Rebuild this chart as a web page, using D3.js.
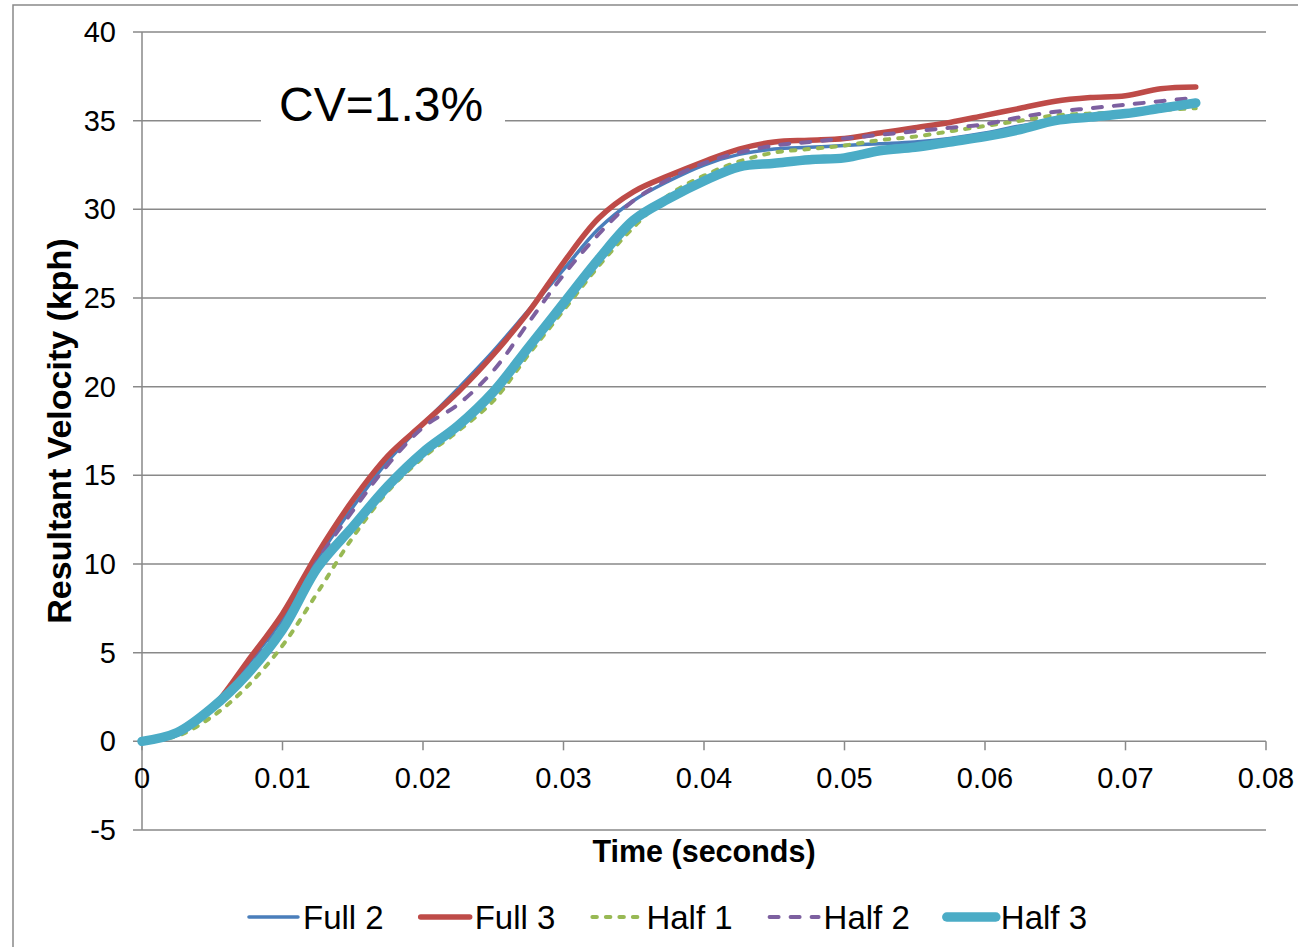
<!DOCTYPE html>
<html>
<head>
<meta charset="utf-8">
<script src="https://cdn.jsdelivr.net/npm/d3@7"></script>
<style>
  body { margin: 0; background: #fff; }
  svg { display: block; font-family: "Liberation Sans", Arial, sans-serif; }
</style>
</head>
<body>
<svg width="1298" height="947"></svg>
<script>
const d3 = window.d3

// time axis (seconds)
const times = [0, 0.0025, 0.005, 0.0075, 0.01, 0.0125, 0.015, 0.0175, 0.02, 0.0225,
  0.025, 0.0275, 0.03, 0.0325, 0.035, 0.0375, 0.04, 0.0425, 0.045, 0.0475,
  0.05, 0.0525, 0.055, 0.0575, 0.06, 0.0625, 0.065, 0.0675, 0.07, 0.0725, 0.075]

// resultant velocity (kph) per trial
const full2 = [0, 0.4, 1.8, 4.3, 6.9, 10.3, 13.2, 15.8, 17.9, 19.9,
  22.0, 24.3, 26.6, 28.9, 30.5, 31.6, 32.5, 33.1, 33.4, 33.5,
  33.6, 33.7, 33.8, 34.0, 34.3, 34.7, 35.0, 35.2, 35.4, 35.7, 36.0]
const full3 = [0, 0.4, 1.9, 4.5, 7.2, 10.6, 13.6, 16.1, 17.9, 19.7,
  21.8, 24.2, 27.0, 29.5, 31.0, 31.9, 32.7, 33.4, 33.8, 33.9,
  34.0, 34.3, 34.6, 34.9, 35.3, 35.7, 36.1, 36.3, 36.4, 36.8, 36.9]
const half1 = [0, 0.3, 1.4, 3.1, 5.4, 8.4, 11.5, 14.1, 16.0, 17.5,
  19.2, 21.8, 24.3, 26.8, 29.0, 30.8, 31.9, 32.7, 33.2, 33.4,
  33.6, 33.9, 34.1, 34.4, 34.7, 35.0, 35.3, 35.4, 35.5, 35.6, 35.7]
const half2 = [0, 0.4, 1.8, 4.1, 6.6, 10.2, 13.0, 15.6, 17.7, 19.0,
  20.9, 23.6, 26.3, 28.6, 30.5, 31.7, 32.6, 33.2, 33.6, 33.8,
  34.0, 34.2, 34.4, 34.6, 34.8, 35.2, 35.5, 35.7, 35.9, 36.1, 36.3]
const half3 = [0, 0.5, 1.9, 3.8, 6.3, 9.8, 12.1, 14.4, 16.3, 17.8,
  19.7, 22.2, 24.7, 27.2, 29.4, 30.6, 31.6, 32.4, 32.6, 32.8,
  32.9, 33.3, 33.5, 33.8, 34.1, 34.5, 35.0, 35.2, 35.4, 35.7, 36.0]

const seriesNames = ['Full 2', 'Full 3', 'Half 1', 'Half 2', 'Half 3']
const seriesValues = [full2, full3, half1, half2, half3]
const xTicks = [0, 0.01, 0.02, 0.03, 0.04, 0.05, 0.06, 0.07, 0.08]
const yTicks = [-5, 0, 5, 10, 15, 20, 25, 30, 35, 40]
const note = 'CV=1.3%'

// line styles for each series
const styles = [
  { color: '#4a7ebb', width: 3.5, dash: null },
  { color: '#be4b48', width: 5.5, dash: null },
  { color: '#98b954', width: 4, dash: '4.5,9' },
  { color: '#7d60a0', width: 4, dash: '9,12' },
  { color: '#4bacc6', width: 9.5, dash: null },
]

const grey = '#898989'
const svg = d3.select('svg')

// outer chart frame (runs off right and bottom edges)
svg.append('rect')
  .attr('x', 13).attr('y', 5)
  .attr('width', 1300).attr('height', 960)
  .attr('fill', 'none').attr('stroke', grey).attr('stroke-width', 1.5)

const x = d3.scaleLinear().domain([0, 0.08]).range([142, 1266])
const y = d3.scaleLinear().domain([-5, 40]).range([830, 32])

// horizontal gridlines + y ticks
svg.append('g')
  .selectAll('line')
  .data(yTicks)
  .join('line')
  .attr('x1', 133).attr('x2', x(0.08))
  .attr('y1', (d) => y(d)).attr('y2', (d) => y(d))
  .attr('stroke', grey).attr('stroke-width', 1.5)

// y axis line
svg.append('line')
  .attr('x1', x(0)).attr('x2', x(0))
  .attr('y1', y(40)).attr('y2', y(-5))
  .attr('stroke', grey).attr('stroke-width', 1.5)

// x ticks on the zero line
svg.append('g')
  .selectAll('line')
  .data(xTicks)
  .join('line')
  .attr('x1', (d) => x(d)).attr('x2', (d) => x(d))
  .attr('y1', y(0)).attr('y2', y(0) + 9)
  .attr('stroke', grey).attr('stroke-width', 1.5)

svg.append('g')
  .selectAll('text')
  .data(yTicks)
  .join('text')
  .attr('x', 116)
  .attr('y', (d) => y(d) + 10)
  .attr('text-anchor', 'end')
  .attr('font-size', 29)
  .text((d) => d)

svg.append('g')
  .selectAll('text')
  .data(xTicks)
  .join('text')
  .attr('x', (d) => x(d))
  .attr('y', y(0) + 47)
  .attr('text-anchor', 'middle')
  .attr('font-size', 29)
  .text((d) => d)

// axis titles
svg.append('text')
  .attr('transform', 'translate(71,431) rotate(-90)')
  .attr('text-anchor', 'middle')
  .attr('font-size', 34)
  .attr('font-weight', 'bold')
  .text('Resultant Velocity (kph)')

svg.append('text')
  .attr('x', 704).attr('y', 862)
  .attr('text-anchor', 'middle')
  .attr('font-size', 30.5)
  .attr('font-weight', 'bold')
  .text('Time (seconds)')

// CV note with white box behind it
svg.append('rect')
  .attr('x', 261).attr('y', 76)
  .attr('width', 244).attr('height', 58)
  .attr('fill', '#fff')
svg.append('text')
  .attr('x', 279).attr('y', 121)
  .attr('font-size', 48)
  .text(note)

// data lines
const line = d3.line()
  .x((d, i) => x(times[i]))
  .y((d) => y(d))
  .curve(d3.curveCatmullRom.alpha(0.5))

svg.append('g')
  .selectAll('path')
  .data(seriesValues)
  .join('path')
  .attr('d', (d) => line(d))
  .attr('fill', 'none')
  .attr('stroke', (d, i) => styles[i].color)
  .attr('stroke-width', (d, i) => styles[i].width)
  .attr('stroke-dasharray', (d, i) => styles[i].dash)
  .attr('stroke-linecap', 'round')
  .attr('stroke-linejoin', 'round')

// legend, laid out by measured text widths and centred
const legend = svg.append('g')
const gap = 35
let cursor = 0
seriesNames.forEach((name, i) => {
  const g = legend.append('g')
  g.append('line')
    .attr('x1', 2).attr('x2', 51)
    .attr('y1', 0).attr('y2', 0)
    .attr('stroke', styles[i].color)
    .attr('stroke-width', styles[i].width)
    .attr('stroke-dasharray', styles[i].dash)
    .attr('stroke-linecap', 'round')
  const t = g.append('text')
    .attr('x', 56).attr('y', 12)
    .attr('font-size', 33)
    .text(name)
  const w = 56 + t.node().getComputedTextLength()
  g.attr('transform', `translate(${cursor},0)`)
  cursor += w + gap
})
const total = cursor - gap
legend.attr('transform', `translate(${667 - total / 2},917)`)
</script>
</body>
</html>
